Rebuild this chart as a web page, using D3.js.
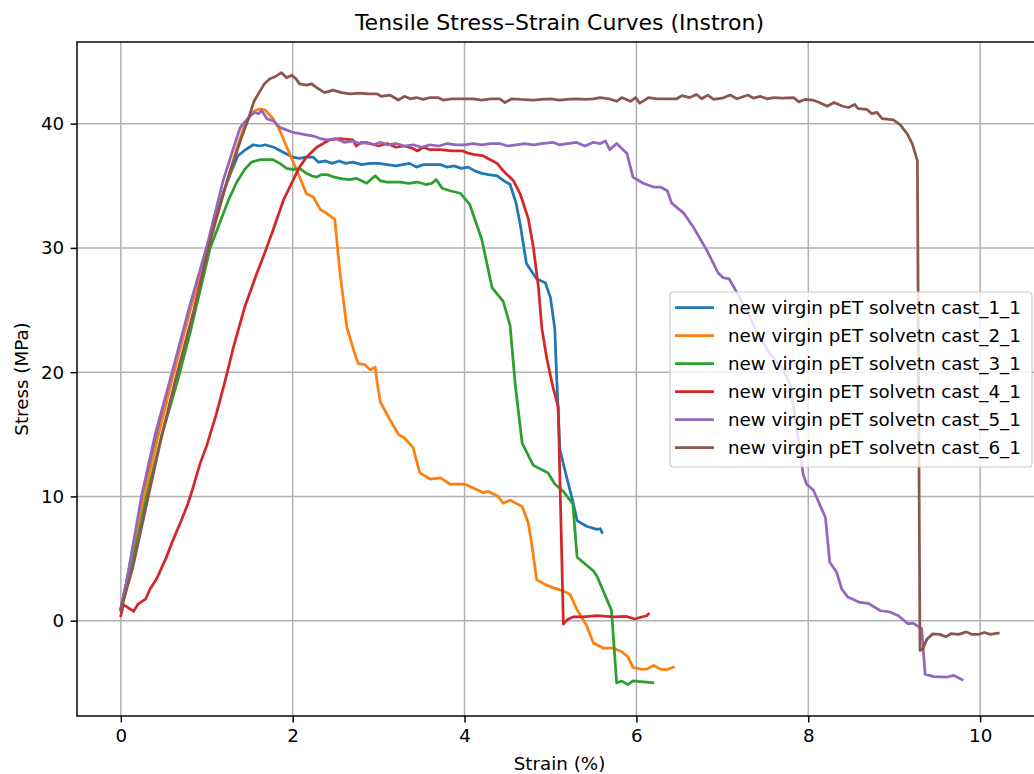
<!DOCTYPE html>
<html>
<head>
<meta charset="utf-8">
<script src="https://cdn.jsdelivr.net/npm/d3@7"></script>
<style>
  body { margin: 0; background: #fff; }
  svg { font-family: "DejaVu Sans", sans-serif; }
</style>
</head>
<body>
<div id="chart"></div>
<script>
// series names & colours
const labels = [
  "new virgin pET solvetn cast_1_1",
  "new virgin pET solvetn cast_2_1",
  "new virgin pET solvetn cast_3_1",
  "new virgin pET solvetn cast_4_1",
  "new virgin pET solvetn cast_5_1",
  "new virgin pET solvetn cast_6_1"
];
const colors = ["#1f77b4", "#ff7f0e", "#2ca02c", "#d62728", "#9467bd", "#8c564b"];

const xTicks = [0, 2, 4, 6, 8, 10];
const yTicks = [0, 10, 20, 30, 40];

// [strain %, stress MPa]
const cast1 = [[0,1.0],[0.08,3.6],[0.25,9.9],[0.42,15],[0.58,19.3],[0.8,25],[1.0,30],[1.2,34.6],[1.3,36.4],[1.36,37.4],[1.45,37.9],[1.54,38.3],[1.62,38.2],[1.68,38.3],[1.78,38.1],[1.89,37.7],[2.0,37.3],[2.08,37.2],[2.16,37.3],[2.24,37.3],[2.3,36.9],[2.38,37.0],[2.46,36.8],[2.54,37.0],[2.62,36.8],[2.7,36.9],[2.8,36.7],[2.9,36.8],[3.0,36.8],[3.1,36.7],[3.2,36.6],[3.28,36.7],[3.36,36.8],[3.44,36.5],[3.52,36.7],[3.62,36.7],[3.72,36.7],[3.8,36.5],[3.88,36.6],[3.96,36.4],[4.04,36.5],[4.12,36.2],[4.2,36.0],[4.28,35.9],[4.38,35.8],[4.46,35.4],[4.53,35.1],[4.6,33.6],[4.65,31.8],[4.72,28.75],[4.84,27.5],[4.94,27.2],[5.0,26.0],[5.05,23.5],[5.07,19.9],[5.11,13.75],[5.19,11.5],[5.26,9.6],[5.31,8.05],[5.42,7.6],[5.54,7.35],[5.58,7.4],[5.6,7.1]];
const cast2 = [[0,0.9],[0.08,3.3],[0.27,10],[0.44,15],[0.6,19.5],[0.82,25.3],[1.02,30],[1.2,34.5],[1.35,38],[1.45,40.1],[1.55,41.0],[1.62,41.2],[1.68,41.1],[1.77,40.4],[1.84,39.6],[1.89,38.8],[1.95,37.8],[2.0,37.0],[2.08,35.7],[2.16,34.35],[2.24,34.1],[2.32,33.1],[2.39,32.8],[2.49,32.3],[2.55,28],[2.63,23.6],[2.7,22],[2.76,20.7],[2.84,20.6],[2.9,20.2],[2.96,20.4],[2.98,19.3],[3.02,17.6],[3.13,16.2],[3.23,15.0],[3.3,14.7],[3.4,13.95],[3.48,11.9],[3.6,11.4],[3.72,11.5],[3.83,11.0],[4.0,11.0],[4.14,10.55],[4.22,10.3],[4.28,10.4],[4.39,10.0],[4.45,9.45],[4.53,9.7],[4.67,9.2],[4.74,7.9],[4.78,6.25],[4.84,3.3],[4.94,2.9],[5.05,2.6],[5.15,2.4],[5.23,2.1],[5.3,1.0],[5.42,-0.4],[5.5,-1.8],[5.61,-2.2],[5.73,-2.2],[5.83,-2.5],[5.9,-2.9],[5.96,-3.75],[6.05,-3.9],[6.12,-3.9],[6.2,-3.6],[6.28,-3.9],[6.35,-3.95],[6.43,-3.75]];
const cast3 = [[0,0.8],[0.1,3.5],[0.3,10],[0.48,15],[0.66,19.3],[0.8,23],[0.92,26.5],[1.04,30],[1.15,32],[1.25,33.8],[1.35,35.3],[1.44,36.3],[1.52,36.9],[1.62,37.1],[1.7,37.1],[1.77,37.1],[1.85,36.8],[1.93,36.4],[2.0,36.3],[2.08,36.4],[2.16,36.0],[2.22,35.8],[2.28,35.7],[2.34,35.9],[2.4,35.9],[2.48,35.7],[2.58,35.55],[2.66,35.5],[2.74,35.6],[2.8,35.4],[2.86,35.2],[2.96,35.8],[3.02,35.4],[3.1,35.3],[3.17,35.3],[3.25,35.3],[3.35,35.2],[3.45,35.3],[3.55,35.1],[3.62,35.2],[3.67,35.5],[3.74,34.8],[3.83,34.6],[3.95,34.4],[4.06,33.5],[4.2,30.7],[4.32,26.8],[4.45,25.7],[4.53,23.75],[4.59,19.0],[4.67,14.3],[4.8,12.5],[4.97,11.9],[5.05,11.0],[5.15,10.4],[5.26,9.4],[5.31,5.1],[5.5,4.0],[5.54,3.6],[5.71,0.83],[5.77,-5.0],[5.83,-4.86],[5.9,-5.14],[5.96,-4.85],[6.04,-4.9],[6.12,-4.95],[6.19,-5.0]];
const cast4 = [[0,0.4],[0.03,1.3],[0.15,0.75],[0.2,1.34],[0.29,1.75],[0.34,2.55],[0.415,3.35],[0.53,5.1],[0.59,6.2],[0.7,8],[0.78,9.4],[0.84,10.7],[0.92,12.6],[1.0,14.1],[1.11,16.6],[1.21,19.2],[1.31,22.0],[1.44,25.2],[1.58,27.9],[1.68,29.7],[1.77,31.4],[1.89,33.8],[2.0,35.4],[2.08,36.5],[2.16,37.3],[2.28,38.1],[2.43,38.7],[2.55,38.8],[2.7,38.7],[2.74,38.2],[2.8,38.5],[2.9,38.4],[3.0,38.2],[3.1,38.4],[3.2,38.1],[3.3,38.2],[3.4,38.0],[3.45,37.8],[3.52,38.1],[3.6,37.9],[3.72,37.9],[3.85,37.8],[3.98,37.8],[4.05,37.6],[4.12,37.5],[4.22,37.4],[4.3,37.1],[4.38,36.8],[4.45,36.2],[4.57,35.4],[4.65,34.3],[4.74,32.4],[4.8,30.1],[4.86,26.8],[4.9,23.5],[4.96,21.0],[5.03,18.75],[5.09,17.2],[5.15,-0.28],[5.2,0.1],[5.26,0.3],[5.38,0.3],[5.54,0.4],[5.73,0.3],[5.88,0.35],[5.98,0.14],[6.06,0.3],[6.12,0.4],[6.14,0.55]];
const cast5 = [[0,1.0],[0.07,3.2],[0.24,10],[0.4,15],[0.57,19.3],[0.8,25.3],[1.0,30.1],[1.19,35.4],[1.3,37.8],[1.39,39.7],[1.5,40.6],[1.56,40.9],[1.6,40.8],[1.64,41.06],[1.7,40.4],[1.78,40.2],[1.85,39.7],[2.0,39.3],[2.08,39.2],[2.16,39.1],[2.24,39.0],[2.32,38.8],[2.4,38.7],[2.5,38.8],[2.6,38.5],[2.7,38.6],[2.78,38.4],[2.86,38.5],[2.94,38.3],[3.02,38.5],[3.1,38.3],[3.2,38.4],[3.3,38.2],[3.4,38.3],[3.5,38.1],[3.6,38.3],[3.7,38.2],[3.8,38.4],[3.9,38.3],[4.0,38.3],[4.1,38.4],[4.2,38.3],[4.3,38.4],[4.41,38.4],[4.5,38.2],[4.6,38.3],[4.7,38.4],[4.8,38.3],[4.9,38.4],[5.03,38.5],[5.1,38.3],[5.2,38.4],[5.3,38.5],[5.4,38.2],[5.5,38.5],[5.58,38.4],[5.64,38.6],[5.69,37.9],[5.77,38.4],[5.89,37.6],[5.96,35.7],[6.08,35.2],[6.2,34.9],[6.28,34.9],[6.36,34.6],[6.41,33.6],[6.55,32.8],[6.66,31.7],[6.82,29.8],[6.95,28.0],[7.01,27.6],[7.08,27.5],[7.17,26.4],[7.28,25.0],[7.42,23.0],[7.55,21.5],[7.7,20.3],[7.79,19.0],[7.87,15.3],[7.94,11.8],[7.98,11.0],[8.06,10.5],[8.2,8.3],[8.25,4.7],[8.33,3.9],[8.39,2.55],[8.46,1.9],[8.6,1.47],[8.7,1.4],[8.84,0.8],[8.95,0.7],[9.05,0.4],[9.16,-0.25],[9.22,-0.2],[9.32,-0.65],[9.36,-4.3],[9.46,-4.5],[9.61,-4.55],[9.69,-4.4],[9.79,-4.75]];
const cast6 = [[0,0.9],[0.14,4.3],[0.32,10],[0.48,15],[0.64,19.5],[0.85,25],[1.02,30],[1.07,31.4],[1.25,35.7],[1.4,38.8],[1.48,40.3],[1.55,41.8],[1.6,42.4],[1.67,43.2],[1.73,43.6],[1.8,43.8],[1.87,44.1],[1.93,43.7],[1.99,43.9],[2.04,43.6],[2.08,43.2],[2.16,43.1],[2.22,43.2],[2.28,42.9],[2.37,42.5],[2.47,42.7],[2.57,42.5],[2.67,42.4],[2.77,42.45],[2.88,42.4],[2.98,42.4],[3.03,42.2],[3.13,42.3],[3.23,41.9],[3.3,42.2],[3.37,42.0],[3.44,42.1],[3.52,41.95],[3.6,42.1],[3.69,42.1],[3.75,41.9],[3.85,42.0],[3.98,42.0],[4.1,42.0],[4.2,41.9],[4.3,42.0],[4.41,42.0],[4.47,41.7],[4.55,42.0],[4.65,41.95],[4.8,41.9],[4.9,41.95],[5.0,42.0],[5.1,41.9],[5.19,41.95],[5.3,42.0],[5.4,41.95],[5.5,42.0],[5.58,42.1],[5.68,42.0],[5.77,41.8],[5.83,42.1],[5.93,41.8],[5.99,42.1],[6.04,41.65],[6.14,42.1],[6.24,42.0],[6.35,42.0],[6.47,42.0],[6.53,42.25],[6.62,42.1],[6.7,42.35],[6.76,42.0],[6.83,42.3],[6.9,41.95],[7.0,42.05],[7.09,42.3],[7.17,42.0],[7.3,42.3],[7.36,42.05],[7.44,42.2],[7.52,42.0],[7.6,42.1],[7.7,42.05],[7.83,42.1],[7.89,41.75],[7.96,41.95],[8.05,41.9],[8.13,41.7],[8.22,41.4],[8.3,41.7],[8.4,41.4],[8.47,41.3],[8.54,41.55],[8.58,41.2],[8.68,41.15],[8.74,40.8],[8.8,40.9],[8.86,40.4],[8.99,40.3],[9.07,39.9],[9.15,39.2],[9.21,38.4],[9.27,37.0],[9.3,-2.4],[9.33,-2.3],[9.38,-1.5],[9.45,-1.06],[9.53,-1.1],[9.6,-1.3],[9.66,-1.05],[9.75,-1.1],[9.84,-0.9],[9.9,-1.1],[9.98,-1.1],[10.05,-0.95],[10.12,-1.1],[10.21,-1.0]];

const seriesData = [cast1, cast2, cast3, cast4, cast5, cast6];

const W = 1034, H = 774;
const fs = 18.3;
const plot = { left: 77, right: 1042, top: 42, bottom: 716 };

const svg = d3.select("#chart").append("svg")
  .attr("width", W)
  .attr("height", H);

const x = d3.scaleLinear().domain([-0.51, 10.72]).range([plot.left, plot.right]);
const y = d3.scaleLinear().domain([-7.67, 46.57]).range([plot.bottom, plot.top]);

svg.append("defs").append("clipPath").attr("id", "clip")
  .append("rect")
  .attr("x", plot.left).attr("y", plot.top)
  .attr("width", plot.right - plot.left).attr("height", plot.bottom - plot.top);

// grid
const grid = svg.append("g").attr("stroke", "#b0b0b0").attr("stroke-width", 1.47);
xTicks.forEach(t => {
  grid.append("line").attr("x1", x(t)).attr("x2", x(t)).attr("y1", plot.top).attr("y2", plot.bottom);
});
yTicks.forEach(t => {
  grid.append("line").attr("x1", plot.left).attr("x2", plot.right).attr("y1", y(t)).attr("y2", y(t));
});

// curves
const line = d3.line().x(d => x(d[0])).y(d => y(d[1]));
const curves = svg.append("g").attr("clip-path", "url(#clip)");
seriesData.forEach((s, i) => {
  curves.append("path")
    .datum(s)
    .attr("fill", "none")
    .attr("stroke", colors[i])
    .attr("stroke-width", 2.75)
    .attr("stroke-linejoin", "round")
    .attr("stroke-linecap", "square")
    .attr("d", line);
});

// axes
const xAxis = d3.axisBottom(x).tickValues(xTicks).tickSize(6.4).tickPadding(6.4).tickFormat(d3.format("d"));
const yAxis = d3.axisLeft(y).tickValues(yTicks).tickSize(6.4).tickPadding(6.4).tickFormat(d3.format("d"));

const gx = svg.append("g").attr("transform", `translate(0,${plot.bottom})`).call(xAxis);
const gy = svg.append("g").attr("transform", `translate(${plot.left},0)`).call(yAxis);
[gx, gy].forEach(g => {
  g.select(".domain").remove();
  g.selectAll(".tick line").attr("stroke", "#000").attr("stroke-width", 1.47);
  g.selectAll(".tick text").attr("fill", "#000").style("font-size", fs + "px").style("font-family", "DejaVu Sans");
});

// spines
svg.append("rect")
  .attr("x", plot.left).attr("y", plot.top)
  .attr("width", plot.right - plot.left).attr("height", plot.bottom - plot.top)
  .attr("fill", "none").attr("stroke", "#000").attr("stroke-width", 1.47);

// labels
svg.append("text")
  .attr("x", (plot.left + plot.right) / 2).attr("y", 30)
  .attr("text-anchor", "middle")
  .style("font-size", "22px")
  .text("Tensile Stress\u2013Strain Curves (Instron)");

svg.append("text")
  .attr("x", (plot.left + plot.right) / 2).attr("y", 770)
  .attr("text-anchor", "middle")
  .style("font-size", fs + "px")
  .text("Strain (%)");

svg.append("text")
  .attr("transform", `translate(28,${(plot.top + plot.bottom) / 2}) rotate(-90)`)
  .attr("text-anchor", "middle")
  .style("font-size", fs + "px")
  .text("Stress (MPa)");

// legend
const legend = svg.append("g").attr("transform", "translate(670,292)");
legend.append("rect")
  .attr("width", 362).attr("height", 175)
  .attr("rx", 3.5)
  .attr("fill", "#fff").attr("fill-opacity", 0.8)
  .attr("stroke", "#cccccc").attr("stroke-width", 1.2);

labels.forEach((lab, i) => {
  const row = legend.append("g").attr("transform", `translate(0,${15.5 + i * 28})`);
  row.append("line")
    .attr("x1", 5).attr("x2", 44)
    .attr("stroke", colors[i]).attr("stroke-width", 2.75);
  row.append("text")
    .attr("x", 58).attr("y", 6.5)
    .style("font-size", fs + "px")
    .text(lab);
});
</script>
</body>
</html>
